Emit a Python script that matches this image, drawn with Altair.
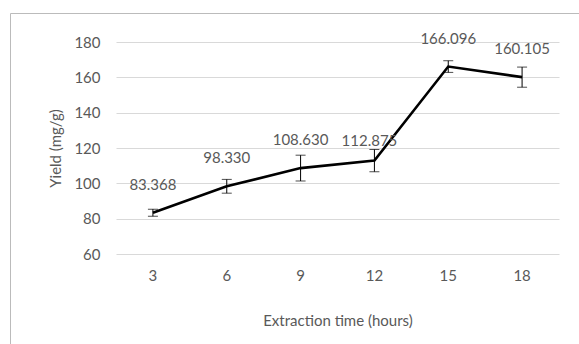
import altair as alt
import pandas as pd

hours = ["3", "6", "9", "12", "15", "18"]
yields = [83.368, 98.330, 108.630, 112.875, 166.096, 160.105]
errors = [2.0, 3.9, 7.3, 6.3, 3.3, 5.7]
labels = ["83.368", "98.330", "108.630", "112.875", "166.096", "160.105"]

df = pd.DataFrame({
    "hours": hours,
    "yield": yields,
    "lo": [y - e for y, e in zip(yields, errors)],
    "hi": [y + e for y, e in zip(yields, errors)],
    "label": labels,
})

FONT = "Lato"
GRAY = "#595959"

x = alt.X("hours:O", sort=hours, scale=alt.Scale(paddingInner=0, paddingOuter=0),
          axis=alt.Axis(title="Extraction time (hours)", labelAngle=0, ticks=False,
                        domain=False, labelPadding=14, titlePadding=30))
yscale = alt.Scale(domain=[60, 180], nice=False, zero=False)
yaxis = alt.Axis(title="Yield (mg/g)", values=[60, 80, 100, 120, 140, 160, 180],
                 ticks=False, domain=False, labelPadding=16, titlePadding=10,
                 gridColor="#d9d9d9", gridWidth=1)
y = alt.Y("yield:Q", scale=yscale, axis=yaxis)
ylo = alt.Y("lo:Q", scale=yscale, axis=yaxis)
yhi = alt.Y("hi:Q", scale=yscale, axis=yaxis)

base = alt.Chart(df)

line = base.mark_line(color="black", strokeWidth=2.6).encode(x=x, y=y)
err = base.mark_rule(color="black", strokeWidth=1).encode(x=x, y=ylo, y2="hi:Q")
cap_lo = base.mark_tick(color="black", thickness=1, size=10).encode(x=x, y=ylo)
cap_hi = base.mark_tick(color="black", thickness=1, size=10).encode(x=x, y=yhi)

txt = base.transform_filter(alt.datum.hours != "12").mark_text(
    font=FONT, fontSize=15, color=GRAY, dy=-28).encode(x=x, y=y, text="label:N")
txt12 = base.transform_filter(alt.datum.hours == "12").mark_text(
    font=FONT, fontSize=15, color=GRAY, dy=-20, dx=-5).encode(x=x, y=y, text="label:N")

frame_df = pd.DataFrame({"k": [0]})
frame = alt.Chart(frame_df).mark_rect(fill="white", fillOpacity=0, stroke="#bbbbbb",
                                      strokeWidth=1, clip=False).encode(
    x=alt.value(-105.5), x2=alt.value(470), y=alt.value(-28.5), y2=alt.value(310))

chart = alt.layer(frame, line, err, cap_lo, cap_hi, txt, txt12).properties(
    width=443, height=212,
    autosize=alt.AutoSizeParams(type="none"),
    padding={"left": 116, "top": 42, "right": 20, "bottom": 90},
    background="white",
).configure_view(stroke=None).configure_axis(
    labelFont=FONT, titleFont=FONT, labelFontSize=15, titleFontSize=15,
    labelColor=GRAY, titleColor=GRAY, titleFontWeight="normal",
)

chart.save("out.html", embed_options={"renderer": "svg", "actions": False})
